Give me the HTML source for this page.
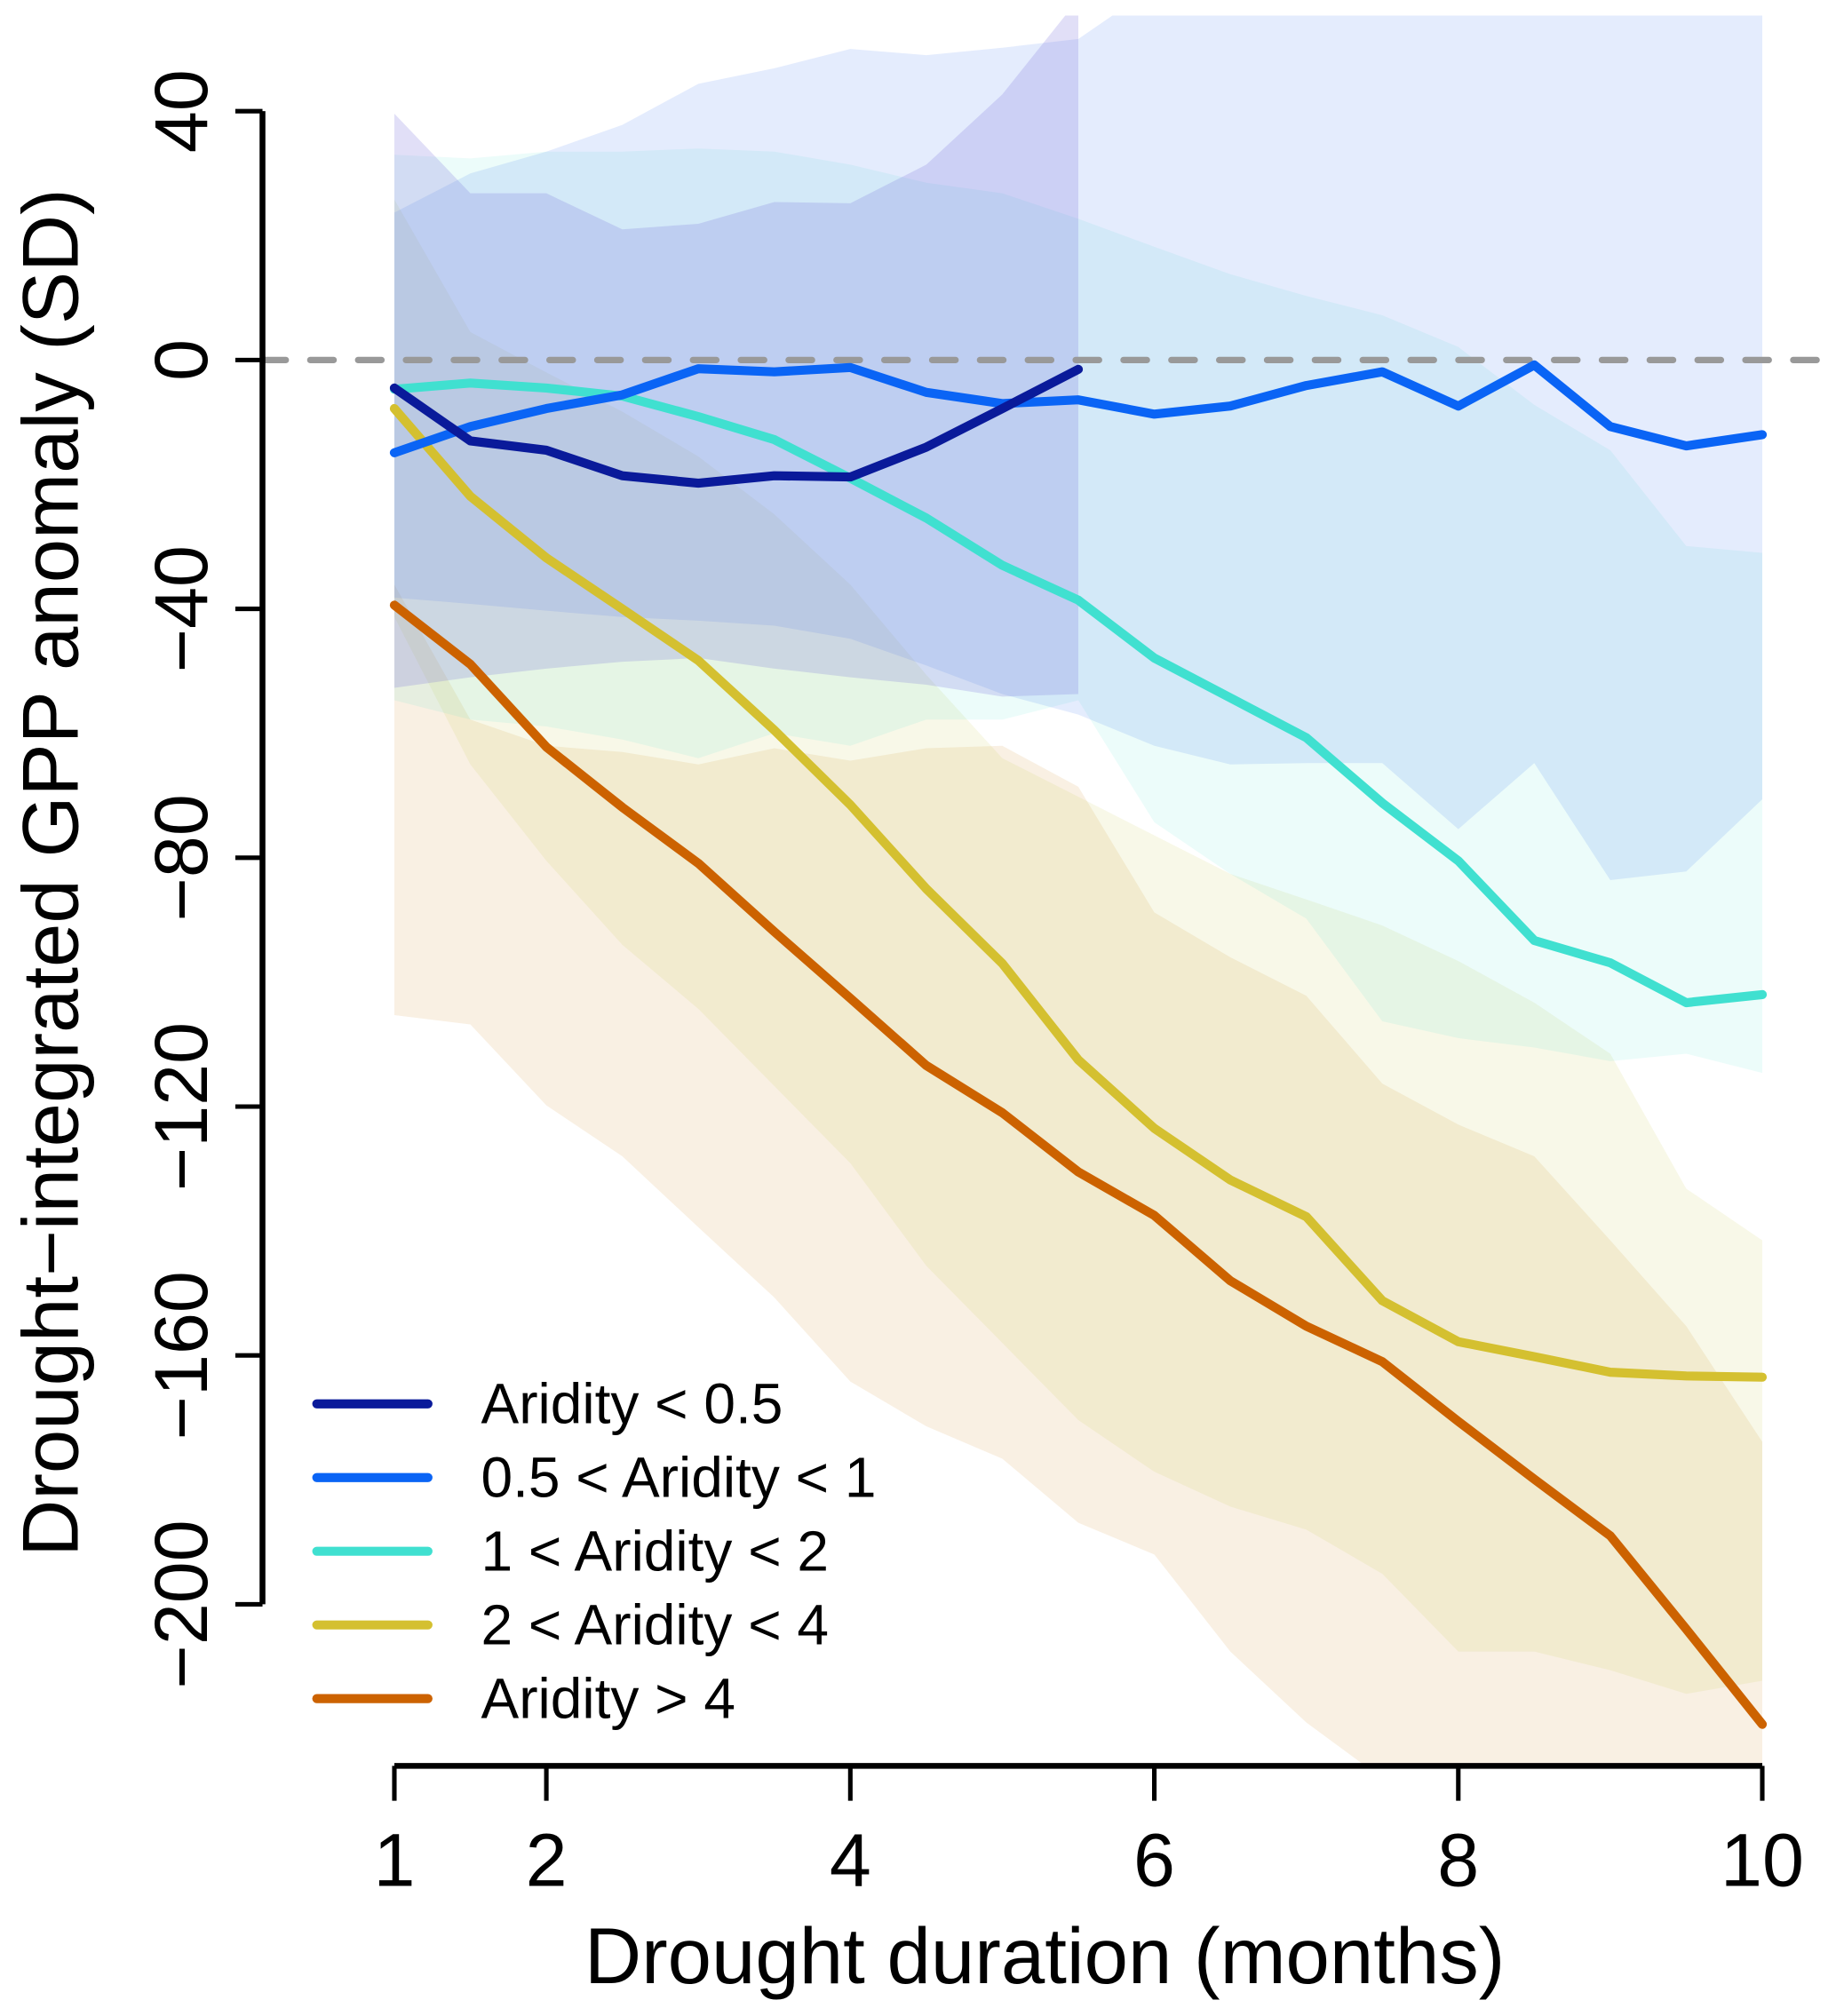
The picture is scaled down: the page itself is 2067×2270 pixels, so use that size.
<!DOCTYPE html>
<html><head><meta charset="utf-8"><style>
html,body{margin:0;padding:0;background:#fff}
svg{display:block}
text{font-family:"Liberation Sans",Arial,sans-serif;fill:#000}
</style></head><body>
<svg id="chart" width="2067" height="2270" viewBox="0 0 1420 1559.5" xmlns="http://www.w3.org/2000/svg">
<defs><clipPath id="pc"><rect x="0" y="12" width="1420" height="1352"/></clipPath></defs>
<g id="bands" clip-path="url(#pc)"></g>
<line x1="203" y1="278.5" x2="1420" y2="278.5" stroke="#999" stroke-width="5" stroke-dasharray="18,19" stroke-linecap="round"/>
<g id="lines" clip-path="url(#pc)"></g>
<g id="axes"></g>
<text x="808" y="1534" font-size="61" text-anchor="middle">Drought duration (months)</text>
<text transform="translate(60,675) rotate(-90)" font-size="61" text-anchor="middle">Drought−integrated GPP anomaly (SD)</text>
<g id="legend"></g>
</svg>
<script>
const xs = [1,1.5,2,2.5,3,3.5,4,4.5,5,5.5,6,6.5,7,7.5,8,8.5,9,9.5,10];
const seriesNames = ["Aridity < 0.5","0.5 < Aridity < 1","1 < Aridity < 2","2 < Aridity < 4","Aridity > 4"];
const seriesColors = ["#0a1a9a","#0a64f5","#40e0d0","#d4c030","#cc6200"];
const meanA = [-4.5,-13,-14.5,-18.6,-19.8,-18.6,-18.8,-14,-7.8,-1.5];
const meanB = [-14.9,-10.7,-7.8,-5.6,-1.4,-1.9,-1.2,-5.2,-7,-6.4,-8.7,-7.4,-4.1,-1.9,-7.4,-0.8,-10.7,-13.8,-12];
const meanC = [-4.7,-3.7,-4.5,-5.8,-9.1,-12.8,-19,-25.4,-33,-38.6,-47.9,-54.3,-60.7,-71.2,-80.5,-93.3,-96.9,-103.3,-102];
const meanD = [-7.8,-21.9,-31.8,-40,-48.3,-59.5,-71.5,-85,-97,-112.5,-123.5,-131.8,-137.7,-151.2,-157.8,-160.2,-162.7,-163.3,-163.5];
const meanE = [-39.4,-48.9,-62.2,-71.9,-80.9,-91.9,-102.6,-113.4,-121,-130.5,-137.5,-148,-155.3,-161,-170.6,-179.9,-189,-204,-219.3];
const upA = [39.6,26.8,26.8,21,21.9,25.4,25.2,31.4,42.7,58];
const loA = [-52.7,-51,-49.6,-48.5,-47.9,-49.6,-51,-52.2,-54.1,-53.7];
const upB = [23.7,30,33.5,37.8,44.4,46.9,50,49,50.2,51.6,60,60,60,60,60,60,60,60,60];
const loB = [-38.2,-39.2,-40.3,-41.3,-41.9,-42.7,-44.8,-49.1,-53.7,-57,-62,-65,-64.8,-64.8,-75.4,-64.8,-83.6,-82.2,-70.6];
const upC = [33,32.4,33.5,33.5,34,33.5,31.4,28.5,26.8,22.7,18.2,13.8,10.3,7.2,2.1,-7.2,-14.5,-29.9,-31];
const loC = [-54.7,-57.8,-58.9,-61,-64,-60,-62,-57.8,-57.8,-54.7,-74.3,-82.6,-89.8,-106.3,-109,-110.5,-112.7,-111.5,-114.6];
const upD = [25.8,4.5,-2,-8.3,-15.5,-24.8,-36.1,-50.6,-64,-70.2,-76.4,-82.6,-86.7,-90.9,-96.6,-103.3,-111.5,-133.2,-141.5];
const loD = [-41.3,-65,-80.5,-94,-104.3,-116.7,-129.1,-145.6,-158,-170.4,-178.7,-184.3,-188,-195.1,-207.6,-207.6,-210.6,-214.4,-212.3];
const upE = [-36.1,-57.8,-62,-63,-65,-62.4,-64.4,-62.4,-62,-68.6,-88.8,-96,-102.2,-116.3,-122.9,-128,-141.5,-155.3,-173.9];
const loE = [-105.3,-106.8,-119.8,-128,-139.4,-150.7,-164.2,-171.4,-176.6,-186.9,-192,-207.6,-219,-228,-240,-250,-250,-250,-250];
const xTicks = [1,2,4,6,8,10];
const yTicks = [40,0,-40,-80,-120,-160,-200];

const NS = "http://www.w3.org/2000/svg";
const X = v => 305 + (v-1)*(1363-305)/9;
const Y = v => 278.5 - v*(1241-86)/240;
function mk(tag, attrs, parent){const e=document.createElementNS(NS,tag);for(const k in attrs)e.setAttribute(k,attrs[k]);parent.appendChild(e);return e;}

const bandFills = ["rgba(120,110,220,0.22)","rgba(30,100,240,0.12)","rgba(64,224,208,0.10)","rgba(200,200,80,0.13)","rgba(220,160,80,0.16)"];
const ups=[upA,upB,upC,upD,upE], los=[loA,loB,loC,loD,loE], means=[meanA,meanB,meanC,meanD,meanE];
const bandsG=document.getElementById('bands'), linesG=document.getElementById('lines');
const order=[4,3,2,1,0];
order.forEach(i=>{
  const u=ups[i], l=los[i];
  let pts=u.map((v,j)=>X(xs[j])+","+Y(v));
  for(let j=l.length-1;j>=0;j--) pts.push(X(xs[j])+","+Y(l[j]));
  const p=mk('polygon',{points:pts.join(' '),fill:bandFills[i]},bandsG);
  
  
});
order.forEach(i=>{
  const m=means[i];
  const p=mk('polyline',{points:m.map((v,j)=>X(xs[j])+","+Y(v)).join(' '),fill:'none',stroke:seriesColors[i],'stroke-width':7,'stroke-linejoin':'round','stroke-linecap':'round'},linesG);
  
  
});

const ax=document.getElementById('axes');
let l=mk('line',{x1:X(1),y1:1366,x2:X(10),y2:1366,stroke:'#000','stroke-width':4.5},ax);


xTicks.forEach(t=>{
  const k=mk('line',{x1:X(t),y1:1366,x2:X(t),y2:1393,stroke:'#000','stroke-width':3.5},ax);
  
  
  const tx=mk('text',{x:X(t),y:1459,'font-size':58,'text-anchor':'middle'},ax);
  tx.textContent=t;
  
  
});
l=mk('line',{x1:203,y1:Y(40),x2:203,y2:Y(-200),stroke:'#000','stroke-width':4.5},ax);


yTicks.forEach(t=>{
  const k=mk('line',{x1:182,y1:Y(t),x2:203,y2:Y(t),stroke:'#000','stroke-width':3.5},ax);
  
  
  const tx=mk('text',{transform:`translate(160,${Y(t)}) rotate(-90)`,'font-size':58,'text-anchor':'middle'},ax);
  tx.textContent=t<0?'−'+(-t):t;
  
  
});

const lg=document.getElementById('legend');
seriesNames.forEach((n,i)=>{
  const y=1086+i*57;
  const k=mk('line',{x1:245,y1:y,x2:331,y2:y,stroke:seriesColors[i],'stroke-width':7,'stroke-linecap':'round'},lg);
  
  
  const tx=mk('text',{x:372,y:y+15,'font-size':44},lg);
  tx.textContent=n;
  
  
});
</script>
</body></html>
